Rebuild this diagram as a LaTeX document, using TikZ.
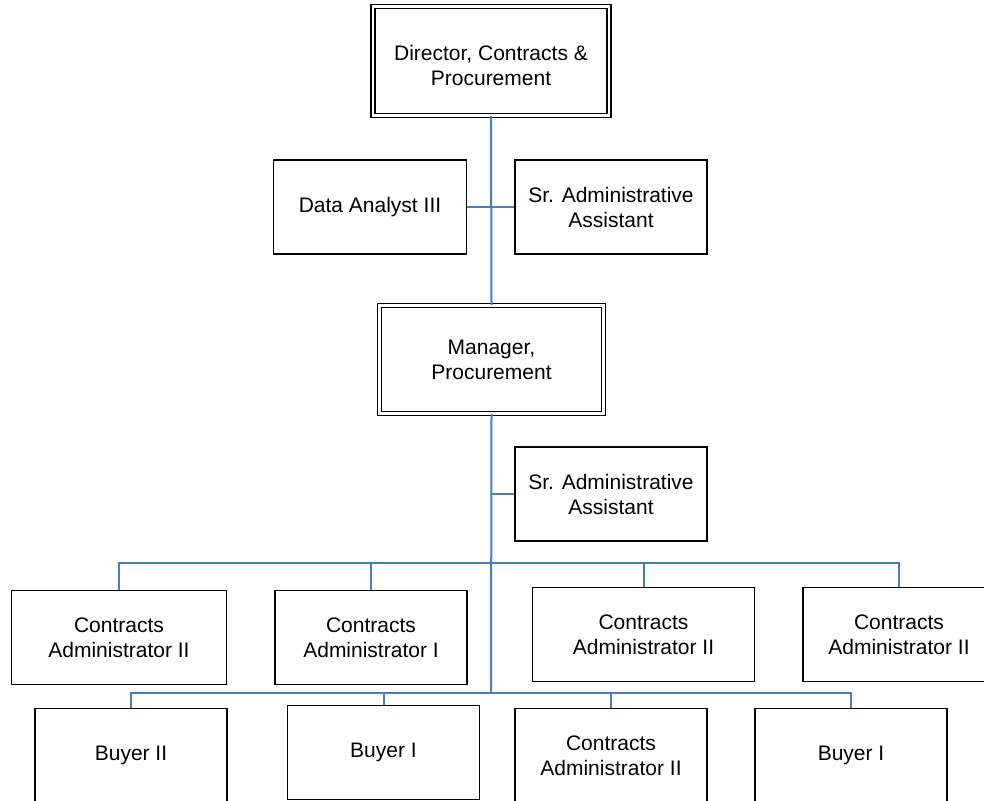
\documentclass[tikz,border=0pt]{standalone}
\usepackage{fontspec}
\setmainfont{Liberation Sans}
\definecolor{linkblue}{RGB}{74,126,187}
\tikzset{
  post/.style={draw=black, line width=1.6pt, fill=white, rectangle, align=center,
    inner sep=0pt, font=\fontsize{21}{25}\selectfont},
  headpost/.style={post, line width=1.3pt, double, double distance=2.6pt},
  conn/.style={draw=linkblue, line width=2pt}
}
\begin{document}
\begin{tikzpicture}[x=1pt,y=-1pt]
\useasboundingbox (0,0) rectangle (984,800);
\clip (0,0) rectangle (984,800);

% staff posts (the director's title sits a little below the frame centre)
\node[headpost, minimum width=236pt, minimum height=109pt] (dir) at (491,61) {};
\node[post, draw=none, fill=none] (dirtitle) at (491,65) {Director, Contracts \&\\Procurement};
\node[post, minimum width=193pt, minimum height=94pt] (da) at (370,207) {Data Analyst III};
\node[post, minimum width=192pt, minimum height=94pt] (sa1) at (611,207) {Sr. Administrative\\Assistant};
\node[headpost, minimum width=224pt, minimum height=108pt] (mgr) at (491.5,359.5) {Manager,\\Procurement};
\node[post, minimum width=192pt, minimum height=94pt] (sa2) at (611,494) {Sr. Administrative\\Assistant};

% first row of reports
\node[post, minimum width=215pt, minimum height=94pt] (r1a) at (119,637.5) {Contracts\\Administrator II};
\node[post, minimum width=192pt, minimum height=94pt] (r1b) at (371,637.5) {Contracts\\Administrator I};
\node[post, minimum width=222pt, minimum height=94pt] (r1c) at (643.5,634.5) {Contracts\\Administrator II};
\node[post, minimum width=192pt, minimum height=94pt] (r1d) at (899,634.5) {Contracts\\Administrator II};

% second row of reports
\node[post, minimum width=192pt, minimum height=94pt] (r2a) at (131,755.5) {Buyer II};
\node[post, minimum width=192pt, minimum height=94pt] (r2b) at (383.5,752.5) {Buyer I};
\node[post, minimum width=192pt, minimum height=94pt] (r2c) at (611,755.5) {Contracts\\Administrator II};
\node[post, minimum width=192pt, minimum height=94pt] (r2d) at (851,755.5) {Buyer I};

% bus junctions on the trunk
\coordinate (b1) at (491,563);
\coordinate (b2) at (491,693);

% trunk and side links
\draw[conn] (dir.south) -- (mgr.north);
\draw[conn] (da.east) -- (sa1.west);
\draw[conn] (mgr.south) -- (b2);
\draw[conn] (sa2.west) -- (sa2.west -| b1);

% upper bus
\draw[conn] (r1a.north) |- (b1) -| (r1d.north);
\draw[conn] (r1b.north) -- (r1b.north |- b1);
\draw[conn] (r1c.north) -- (r1c.north |- b1);

% lower bus
\draw[conn] (r2a.north) |- (b2) -| (r2d.north);
\draw[conn] (r2b.north) -- (r2b.north |- b2);
\draw[conn] (r2c.north) -- (r2c.north |- b2);
\end{tikzpicture}
\end{document}
